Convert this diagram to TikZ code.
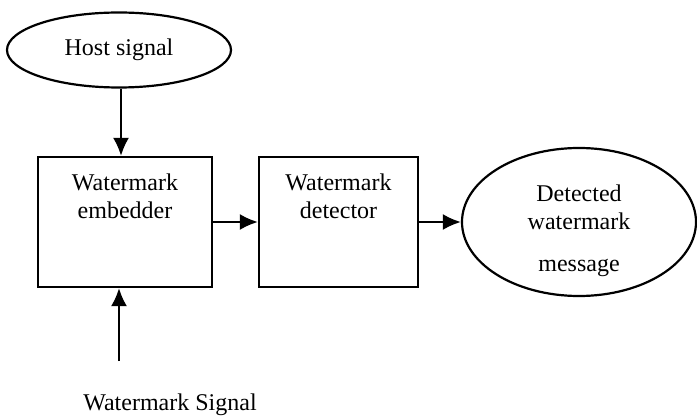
\documentclass[tikz,border=0pt]{standalone}
\usepackage{fontspec}
\setmainfont{Liberation Serif}
\usetikzlibrary{shapes.geometric, arrows.meta}
\tikzstyle{signal} = [ellipse, draw=black, line width=1.1pt, inner sep=0pt, text centered]
\tikzstyle{block} = [rectangle, draw=black, line width=1.1pt, minimum height=65pt]
\tikzstyle{arrow} = [line width=1.1pt, -{Latex[length=9pt,width=8pt]}]

\begin{document}
\begin{tikzpicture}[x=1pt, y=1pt, font=\fontsize{12}{14}\selectfont]
\useasboundingbox (0,0) rectangle (348.5,-208.5);
\node (host) [signal, minimum width=112pt, minimum height=37.5pt] at (59.5,-25) {Host signal};
\node (embedder) [block, minimum width=87pt, label={[anchor=north, align=center, yshift=-5.5pt]north:Watermark\\embedder}] at (62.5,-111) {};
\node (detector) [block, minimum width=79.5pt, label={[anchor=north, align=center, yshift=-5.5pt]north:Watermark\\detector}] at (169.25,-111) {};
\node (message) [signal, minimum width=117pt, minimum height=74pt, label={[align=center, yshift=-4.5pt]center:Detected\\watermark\\[7pt]message}] at (289.5,-111) {};
\coordinate (wmin) at (59.5,-180.5);
\node (wmtext) at (85,-202.5) {Watermark Signal};

\draw [arrow] (host.south -| 60.5,0) -- (embedder.north -| 60.5,0);
\draw [arrow] (embedder.east) -- (detector.west);
\draw [arrow] (detector.east) -- (message.west);
\draw [arrow] (wmin) -- (wmin |- embedder.south);
\end{tikzpicture}
\end{document}
